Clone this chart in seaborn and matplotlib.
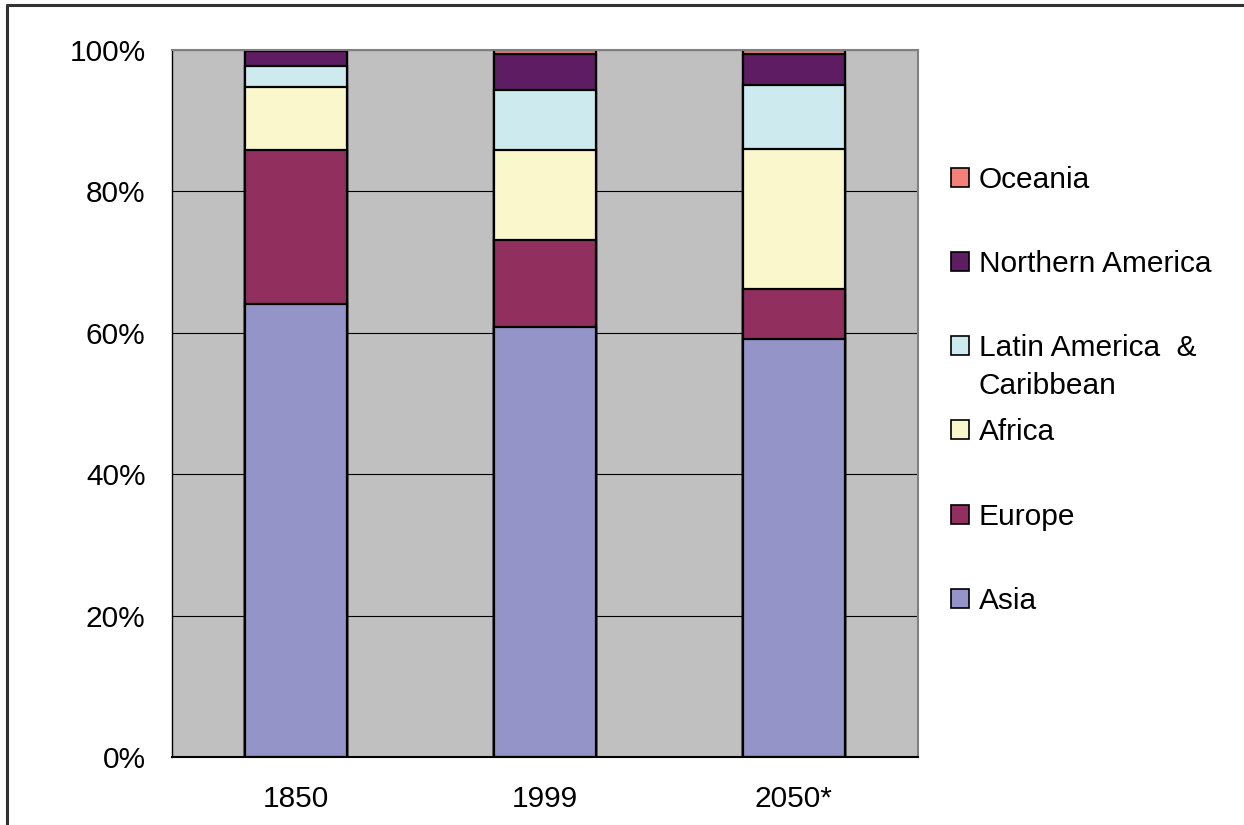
import numpy as np
import pandas as pd
import matplotlib
matplotlib.use("Agg")
import matplotlib.pyplot as plt
from matplotlib.lines import Line2D
from matplotlib.patches import Patch
import seaborn as sns

# population share by region (percent)
years = ["1850", "1999", "2050*"]
asia = [64.1, 60.8, 59.1]
europe = [21.9, 12.2, 7.0]
africa = [8.8, 12.8, 19.8]
latin = [3.0, 8.5, 9.1]
n_america = [2.1, 5.1, 4.4]
oceania = [0.2, 0.5, 0.5]

regions = ["Asia", "Europe", "Africa", "Latin America  &", "Northern America", "Oceania"]
colors = ["#9494C8", "#91305E", "#FAF7CC", "#CDEBEF", "#5E1D62", "#F4807A"]
y_ticks = [0, 20, 40, 60, 80, 100]

sns.set_style("white")
plt.rcParams["font.family"] = ["Liberation Sans", "DejaVu Sans"]
plt.rcParams["font.size"] = 21.5
plt.rcParams["text.color"] = "black"
plt.rcParams["xtick.color"] = "black"
plt.rcParams["ytick.color"] = "black"

df = pd.DataFrame({"Asia": asia, "Europe": europe, "Africa": africa,
                   "Latin America  &": latin, "Northern America": n_america,
                   "Oceania": oceania}, index=years)
# 100% stacked
df = df.div(df.sum(axis=1), axis=0) * 100
cum = df.cumsum(axis=1)

fig = plt.figure(figsize=(12.44, 8.25), dpi=100)
ax = fig.add_axes([172 / 1244, 68 / 825, 746 / 1244, 707 / 825])
ax.set_facecolor("#C0C0C0")

# draw tallest cumulative first, overdraw downwards
for reg, col in reversed(list(zip(regions, colors))):
    sns.barplot(x=years, y=cum[reg].values, color=col, saturation=1,
                edgecolor="black", linewidth=1.6, width=0.41, ax=ax)

ax.set_xlim(-0.5, 2.5)
ax.set_ylim(0, 100)
ax.set_yticks(y_ticks)
ax.set_yticklabels([f"{v}%" for v in y_ticks])
ax.yaxis.grid(True, color="black", linewidth=0.8)
ax.set_axisbelow(True)

ax.set_xticks([-0.5, 0.5, 1.5, 2.5])
ax.set_xticklabels([])
ax.set_xticks([0, 1, 2], minor=True)
ax.set_xticklabels(years, minor=True)
ax.tick_params(axis="x", which="major", direction="out", length=8, width=1, color="black")
ax.tick_params(axis="x", which="minor", length=0, pad=20, labelcolor="black")
ax.tick_params(axis="y", direction="out", length=8, width=1, color="black", pad=11,
               labelcolor="black")
ax.set_xlabel("")
ax.set_ylabel("")

for s in ["left", "bottom"]:
    ax.spines[s].set_color("black")
ax.spines["left"].set_linewidth(1)
ax.spines["bottom"].set_linewidth(1.5)
for s in ["top", "right"]:
    ax.spines[s].set_color("#808080")
    ax.spines[s].set_linewidth(1.5)

handles = [Patch(facecolor=c, edgecolor="black", linewidth=1.2) for c in colors]
leg = fig.legend(handles[::-1], regions[::-1], loc="upper left",
                 bbox_to_anchor=(951 / 1244, 1 - 166 / 825), frameon=False,
                 borderpad=0, borderaxespad=0, handlelength=0.6, handleheight=0.6,
                 handletextpad=0.33, labelspacing=1.88, fontsize=21.5,
                 labelcolor="black")

# second line of the Latin America entry overflows like the original
fig.canvas.draw()
bb = leg.get_texts()[2].get_window_extent()
fig.text(bb.x0 / fig.bbox.width, (bb.y1 - 38) / fig.bbox.height, "Caribbean",
         va="top", ha="left", fontsize=21.5, color="black")

# outer chart border (left and top only visible)
fig.add_artist(Line2D([7 / 1244, 7 / 1244], [0, 1 - 5 / 825], transform=fig.transFigure,
                      color="#333333", linewidth=2.2))
fig.add_artist(Line2D([7 / 1244, 1], [1 - 5 / 825, 1 - 5 / 825], transform=fig.transFigure,
                      color="#333333", linewidth=2.2))

fig.savefig("out.png", dpi=100)
